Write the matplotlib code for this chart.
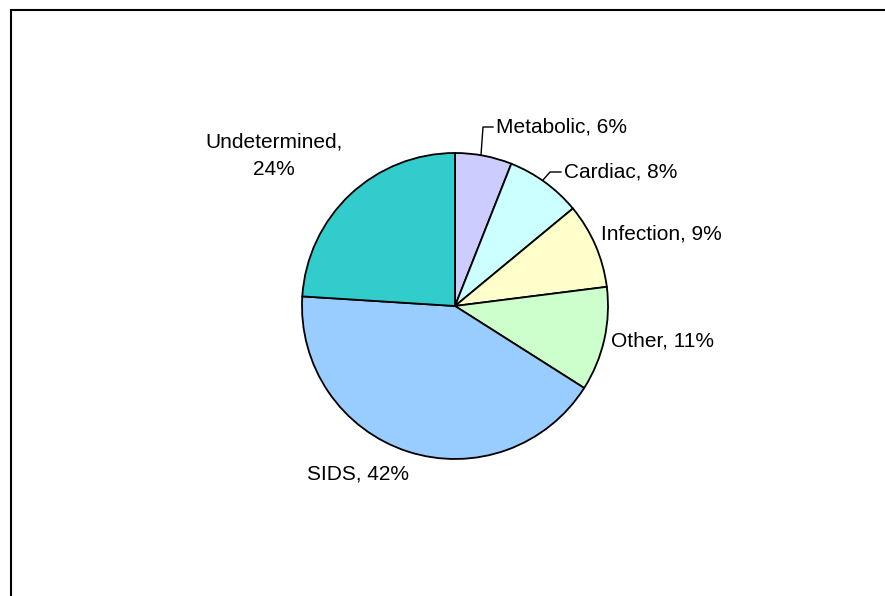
# torta: distribuzione delle cause di morte improvvisa nel lattante
import matplotlib.pyplot as plt
from matplotlib.patches import Rectangle

cause = ["Metabolic", "Cardiac", "Infection", "Other", "SIDS", "Undetermined"]
percentuali = [6, 8, 9, 11, 42, 24]
colori = ["#CCCCFF", "#CCFFFF", "#FFFFCC", "#CCFFCC", "#99CCFF", "#33CCCC"]

plt.rcParams["font.family"] = ["Liberation Sans", "DejaVu Sans"]

fig = plt.figure(figsize=(8.85, 5.96), dpi=100)
# assi in coordinate pixel (origine in basso a sinistra)
ax = fig.add_axes([0, 0, 1, 1])

ax.pie(percentuali, colors=colori, startangle=90, counterclock=False,
       center=(455, 290), radius=153,
       wedgeprops={"edgecolor": "black", "linewidth": 1.3})

# pie() reimposta i limiti, quindi li fisso dopo
ax.set_xlim(0, 885)
ax.set_ylim(0, 596)
ax.set_aspect("equal")
ax.axis("off")

# cornice del grafico (lati destro e inferiore fuori dall'immagine)
ax.add_patch(Rectangle((11, -10), 900, 596 - 10 + 10, fill=False,
                       edgecolor="black", linewidth=1.5))

fs = 15
etichette = [f"{c}, {p}%" for c, p in zip(cause, percentuali)]

# Metabolic con linea guida
ax.plot([481, 483, 493], [596 - 155, 596 - 127, 596 - 127], color="black", lw=1)
ax.text(496, 596 - 127, etichette[0], fontsize=fs, va="center", ha="left")
# Cardiac con linea guida
ax.plot([543, 550, 561], [596 - 180, 596 - 172, 596 - 172], color="black", lw=1)
ax.text(564, 596 - 172, etichette[1], fontsize=fs, va="center", ha="left")
# Infection e Other
ax.text(601, 596 - 234, etichette[2], fontsize=fs, va="center", ha="left")
ax.text(611, 596 - 341, etichette[3], fontsize=fs, va="center", ha="left")
# SIDS
ax.text(358, 596 - 474, etichette[4], fontsize=fs, va="center", ha="center")
# Undetermined su due righe
ax.text(274, 596 - 156, f"{cause[5]},\n{percentuali[5]}%", fontsize=fs,
        va="center", ha="center", linespacing=1.55)

fig.savefig("out.png", dpi=100)
